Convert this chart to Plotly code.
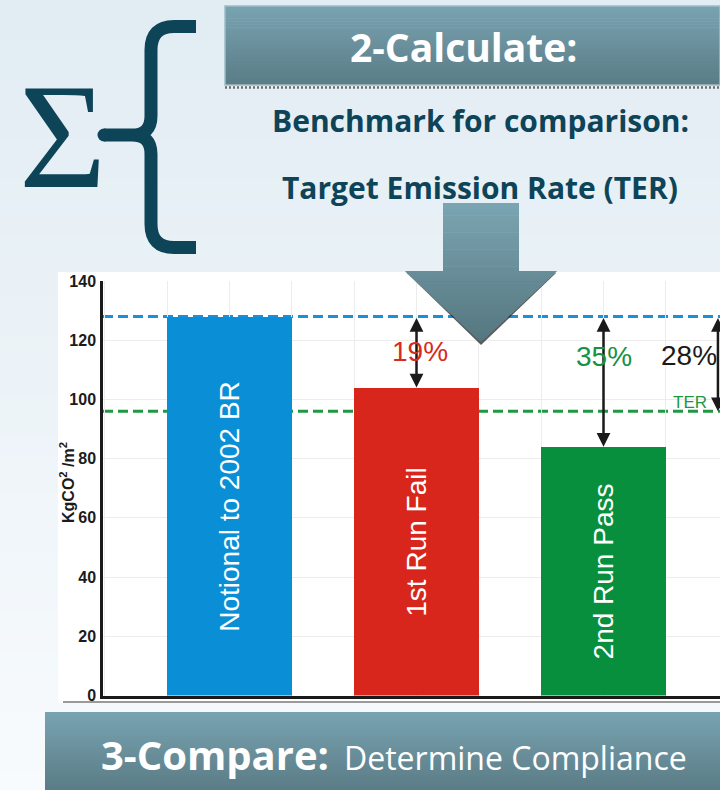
import plotly.graph_objects as go

W, H = 720, 790

# ---- chart data (kgCO2 per m2) ----
categories = [1, 2, 3]
bar_names = ["Notional to 2002 BR", "1st Run Fail", "2nd Run Pass"]
emissions = [128, 104, 84]
bar_colors = ["#0a8ed6", "#d9261c", "#078f3e"]
notional_level = 128
ter_level = 96
gap_labels = ["19%", "35%", "28%"]
gap_colors = ["#d52b21", "#17923f", "#1a1a1a"]
y_ticks = [0, 20, 40, 60, 80, 100, 120, 140]

SANS = "Liberation Sans, Arial, sans-serif"
HEAD = "Open Sans, Noto Sans, sans-serif"
TEAL = "#0d4458"


def px(x, y):
    """Pixel position -> paper fraction."""
    return x / W, 1 - y / H


def pt(x, y):
    a, b = px(x, y)
    return f"{a:.5f},{b:.5f}"


def hex2rgb(c):
    c = c.lstrip("#")
    return [int(c[i:i + 2], 16) for i in (0, 2, 4)]


def mix(c1, c2, t):
    a, b = hex2rgb(c1), hex2rgb(c2)
    return "rgb({},{},{})".format(*[round(a[i] + (b[i] - a[i]) * t) for i in range(3)])


shapes = []


def paper_rect(x0, y0, x1, y1, color, layer="below"):
    a, b = px(x0, y0)
    c, d = px(x1, y1)
    shapes.append(dict(type="rect", xref="paper", yref="paper", x0=a, y0=d, x1=c, y1=b,
                       fillcolor=color, line=dict(width=0), layer=layer))


def grad_rect(x0, y0, x1, y1, top, bottom, n=24, layer="below"):
    step = (y1 - y0) / n
    for i in range(n):
        y_end = min(y0 + (i + 1) * step + 0.6, y1)
        paper_rect(x0, y0 + i * step, x1, y_end, mix(top, bottom, (i + 0.5) / n), layer)


def paper_poly(points):
    return " ".join(("M" if i == 0 else "L") + pt(x, y) for i, (x, y) in enumerate(points)) + " Z"


# ---- page background ----
grad_rect(0, 0, W, H, "#e1ecf3", "#f8fbfd", n=40)

# white panel behind the chart and its bottom rule
paper_rect(58, 272, W, 703, "#ffffff")
a, b = px(63, 702)
shapes.append(dict(type="line", xref="paper", yref="paper", x0=a, x1=1, y0=b, y1=b,
                   line=dict(color="#9a9a9a", width=2), layer="below"))

# ---- "2-Calculate" banner ----
grad_rect(225, 6, W, 85, "#79a3b1", "#5a7c86", n=26)
a, b = px(225, 6)
c, d = px(W, 85)
shapes.append(dict(type="rect", xref="paper", yref="paper", x0=a, y0=d, x1=c, y1=b,
                   line=dict(color="#9ebcc6", width=1.5), fillcolor="rgba(0,0,0,0)", layer="below"))
a, b = px(225, 87.5)
shapes.append(dict(type="line", xref="paper", yref="paper", x0=a, x1=1, y0=b, y1=b,
                   line=dict(color="#6d6d6d", width=2.5, dash="2px,2px"), layer="below"))

# ---- "3-Compare" banner ----
grad_rect(45, 712, W, H, "#79a3b1", "#5a7c86", n=26)

# ---- curly brace ----
brace_path = (
    f"M{pt(196, 26.5)} L{pt(174, 26.5)} Q{pt(151, 26.5)} {pt(151, 50)} L{pt(151, 116)} "
    f"Q{pt(151, 135)} {pt(132, 135)} L{pt(104, 135)} "
    f"M{pt(132, 135)} Q{pt(151, 135)} {pt(151, 154)} L{pt(151, 224)} "
    f"Q{pt(151, 247.5)} {pt(174, 247.5)} L{pt(196, 247.5)}"
)
shapes.append(dict(type="path", xref="paper", yref="paper", path=brace_path,
                   line=dict(color=TEAL, width=13), layer="above"))
a, b = px(97.5, 128.5)
c, d = px(110.5, 141.5)
shapes.append(dict(type="circle", xref="paper", yref="paper", x0=a, y0=d, x1=c, y1=b,
                   fillcolor=TEAL, line=dict(width=0), layer="above"))

# ---- big down arrow: dark edge shadow + vertical gradient slices ----
sx0, sx1, top_y, head_y, hx0, hx1, tip_x, tip_y = 443, 519, 203, 271, 405, 557, 481, 342
shapes.append(dict(type="path", xref="paper", yref="paper",
                   path=paper_poly([(hx0 + 2, head_y + 2), (tip_x, tip_y + 3), (hx1 - 1, head_y + 2)]),
                   fillcolor="rgba(35,35,35,0.75)", line=dict(width=0), layer="above"))


def arrow_halfwidth(y, in_head):
    if not in_head:
        return (sx1 - sx0) / 2
    return (hx1 - hx0) / 2 * (tip_y - y) / (tip_y - head_y)


def add_slice(y0, y1, in_head, t):
    w0 = arrow_halfwidth(y0, in_head)
    w1 = arrow_halfwidth(y1, in_head)
    y1b = y1 + 0.7 if y1 < tip_y else y1
    pts = [(tip_x - w0, y0), (tip_x + w0, y0), (tip_x + w1, y1b), (tip_x - w1, y1b)]
    shapes.append(dict(type="path", xref="paper", yref="paper", path=paper_poly(pts),
                       fillcolor=mix("#7ba5b2", "#55767f", t), line=dict(width=0), layer="above"))


n_shaft, n_head = 28, 28
for i in range(n_shaft):
    y0 = top_y + (head_y - top_y) * i / n_shaft
    y1 = top_y + (head_y - top_y) * (i + 1) / n_shaft
    add_slice(y0, y1, False, ((y0 + y1) / 2 - top_y) / (tip_y - top_y))
for i in range(n_head):
    y0 = head_y + (tip_y - head_y) * i / n_head
    y1 = head_y + (tip_y - head_y) * (i + 1) / n_head
    add_slice(y0, y1, True, ((y0 + y1) / 2 - top_y) / (tip_y - top_y))

# ---- chart geometry ----
x_lo = 1 - 126.5 / 187
x_hi = x_lo + (W - 103) / 187
y_dom = [1 - 695.5 / H, 1 - 281 / H]

# reference levels (dashed, behind the bars)
for level, color in [(notional_level, "#1b8fd8"), (ter_level, "#1f9743")]:
    shapes.append(dict(type="line", xref="x", yref="y", x0=x_lo, x1=x_hi, y0=level, y1=level,
                       line=dict(color=color, width=3, dash="10px,5px"), layer="below"))

fig = go.Figure()
fig.add_trace(go.Bar(
    x=categories, y=emissions, width=2 / 3,
    marker=dict(color=bar_colors, line=dict(width=0)),
    text=bar_names, textposition="inside", insidetextanchor="middle", textangle=-90,
    textfont=dict(family=SANS, size=28, color="white"),
    hoverinfo="skip",
))

annotations = []

# double-headed gap arrows and their percentages
arrow_x = [categories[1], categories[2], x_hi - 0.011]
arrow_end = [emissions[1], emissions[2], ter_level]
label_x = [categories[1] + 0.02, categories[2] + 0.005, x_hi - 0.165]
label_y = [116.2, 114.4, 114.7]
for xa, ye, lab, col, lx, ly in zip(arrow_x, arrow_end, gap_labels, gap_colors, label_x, label_y):
    annotations.append(dict(x=xa, y=ye, ax=xa, ay=notional_level, xref="x", yref="y",
                            axref="x", ayref="y", text="", showarrow=True,
                            arrowhead=2, startarrowhead=2, arrowside="end+start",
                            arrowsize=1.1, startarrowsize=1.1, arrowwidth=2.5,
                            arrowcolor="#1a1a1a", standoff=0, startstandoff=0))
    annotations.append(dict(x=lx, y=ly, xref="x", yref="y", text=lab, showarrow=False,
                            font=dict(family=SANS, size=28, color=col)))

annotations.append(dict(x=x_hi - 0.158, y=98.9, xref="x", yref="y", text="TER", showarrow=False,
                        font=dict(family=SANS, size=17, color="#1f9743")))

# y-axis title
a, b = px(67, 483)
annotations.append(dict(x=a, y=b, xref="paper", yref="paper", text="KgCO<sup>2</sup> /m<sup>2</sup>",
                        textangle=-90, showarrow=False, xanchor="center", yanchor="middle",
                        font=dict(family=SANS, size=16, color="#1b1b1b", weight="bold")))


def paper_text(x, y, text, size, color, family=HEAD, weight="normal", xanchor="center"):
    a, b = px(x, y)
    annotations.append(dict(x=a, y=b, xref="paper", yref="paper", text=text, showarrow=False,
                            xanchor=xanchor, yanchor="middle",
                            font=dict(family=family, size=size, color=color, weight=weight)))


paper_text(463, 47, "2-Calculate:", 39, "white", weight="bold")
paper_text(481, 120, "Benchmark for comparison:", 30, TEAL, weight="bold")
paper_text(480, 187, "Target Emission Rate (TER)", 30, TEAL, weight="bold")
paper_text(331, 754, "3-Compare:", 40, "white", weight="bold", xanchor="right")
paper_text(342, 757, "Determine Compliance", 32, "white", xanchor="left")
paper_text(62, 136, "\u03a3", 150, TEAL, family="Liberation Serif, DejaVu Serif, serif")

fig.update_layout(
    width=W, height=H, autosize=False,
    margin=dict(l=0, r=0, t=0, b=0, pad=0, autoexpand=False),
    paper_bgcolor="#eaf2f7", plot_bgcolor="rgba(0,0,0,0)",
    showlegend=False, bargap=0,
    shapes=shapes, annotations=annotations,
    xaxis=dict(domain=[103 / W, 1], range=[x_lo, x_hi], showticklabels=False,
               tick0=0, dtick=1 / 3, showgrid=True, gridcolor="#ececec", gridwidth=1,
               zeroline=False, showline=True, linecolor="#1a1a1a", linewidth=2.5, ticks=""),
    yaxis=dict(domain=y_dom, range=[0, 140], tickvals=y_ticks, ticktext=[str(v) for v in y_ticks],
               showgrid=True, gridcolor="#ececec", gridwidth=1, zeroline=False,
               showline=True, linecolor="#1a1a1a", linewidth=2.5, ticks="", ticklabelstandoff=1,
               tickfont=dict(family=SANS, size=16, color="#1b1b1b", weight="bold")),
)

fig.write_html("out.html")
